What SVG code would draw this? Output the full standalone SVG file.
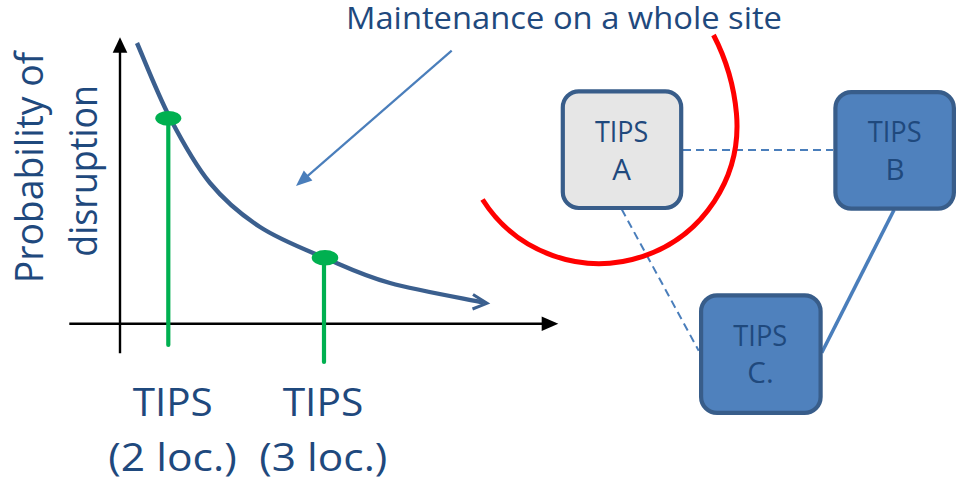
<svg xmlns="http://www.w3.org/2000/svg" width="967" height="486" viewBox="0 0 967 486">
  <style>
    .t { font-family: "Open Sans", "Liberation Sans", sans-serif; fill: #1F497D; }
    .big { font-size: 38px; }
    .box { font-size: 29.5px; }
    .node { stroke: #385D8A; stroke-width: 4.2; }
    .dash { stroke: #4A7EBB; stroke-width: 2; stroke-dasharray: 8 5; fill: none; }
    .axis { stroke: #000; stroke-width: 2.4; fill: none; }
    .green { stroke: #00B050; stroke-width: 4.2; stroke-linecap: round; fill: none; }
  </style>
  <rect width="967" height="486" fill="#FFFFFF"/>

  <!-- title -->
  <text class="t" x="346" y="29.3" font-size="31" textLength="436" lengthAdjust="spacingAndGlyphs">Maintenance on a whole site</text>

  <!-- chart -->
  <g id="chart">
    <line class="axis" x1="120" y1="353.3" x2="120" y2="50"/>
    <polygon points="120,37.3 112.7,52.7 127.3,52.7" fill="#000"/>
    <line class="axis" x1="69.3" y1="323.7" x2="544" y2="323.7"/>
    <polygon points="558.3,323.7 541.7,316.4 541.7,331" fill="#000"/>

    <path d="M137,43 C142.5,55.5 157.8,94.7 170,118 C182.2,141.3 195,164.8 210,183 C225,201.2 240.8,214.5 260,227 C279.2,239.5 303.3,248.7 325,258 C346.7,267.3 363,275.5 390,283 C417,290.5 468,299.2 484,302.6" fill="none" stroke="#3B5F8E" stroke-width="4.4"/>
    <polyline points="473,294.5 487,303.3 472.5,309" fill="none" stroke="#3B5F8E" stroke-width="3" stroke-linejoin="miter"/>

    <line class="green" x1="168.3" y1="118" x2="168.3" y2="345"/>
    <ellipse cx="168.3" cy="118.3" rx="13" ry="7.4" fill="#00B050"/>
    <line class="green" x1="324" y1="258" x2="324" y2="362"/>
    <ellipse cx="325" cy="257.7" rx="13.3" ry="7.8" fill="#00B050"/>

    <line x1="451.7" y1="50.7" x2="306" y2="177.3" stroke="#4A7EBB" stroke-width="2.2"/>
    <polygon points="296,186 303.8,170.6 312.4,180.4" fill="#4A7EBB"/>
  </g>

  <!-- axis labels -->
  <text class="t big" transform="translate(42.7,283.3) rotate(-90)" x="0" y="0" font-size="37" textLength="231.6" lengthAdjust="spacingAndGlyphs">Probability of</text>
  <text class="t big" transform="translate(96.7,256.7) rotate(-90)" x="0" y="0" font-size="37" textLength="171.7" lengthAdjust="spacingAndGlyphs">disruption</text>

  <text class="t big" x="132.7" y="416" textLength="80" lengthAdjust="spacingAndGlyphs">TIPS</text>
  <text class="t big" x="108.3" y="470.7" textLength="128.4" lengthAdjust="spacingAndGlyphs">(2 loc.)</text>
  <text class="t big" x="282.7" y="416" textLength="80.6" lengthAdjust="spacingAndGlyphs">TIPS</text>
  <text class="t big" x="259.3" y="470.7" textLength="128" lengthAdjust="spacingAndGlyphs">(3 loc.)</text>

  <!-- connectors -->
  <g id="connectors">
    <line class="dash" x1="683" y1="150" x2="833" y2="150"/>
    <line class="dash" x1="621.7" y1="209.3" x2="698.7" y2="350.7"/>
    <line x1="894" y1="210" x2="821.7" y2="352.7" stroke="#4A7EBB" stroke-width="3.6"/>
  </g>

  <!-- nodes -->
  <g id="tips-a">
    <rect class="node" x="562.8" y="91.4" width="118.4" height="116.6" rx="16" fill="#E6E6E6"/>
    <text class="t box" x="595" y="141.7" textLength="53.3" lengthAdjust="spacingAndGlyphs">TIPS</text>
    <text class="t box" x="621.7" y="180" text-anchor="middle">A</text>
  </g>
  <g id="tips-b">
    <rect class="node" x="835.4" y="92.1" width="118.5" height="116.5" rx="16" fill="#4F81BD"/>
    <text class="t box" x="867.7" y="141.7" textLength="54" lengthAdjust="spacingAndGlyphs">TIPS</text>
    <text class="t box" x="895" y="180" text-anchor="middle">B</text>
  </g>
  <g id="tips-c">
    <rect class="node" x="701.1" y="295.4" width="119.5" height="117.5" rx="16" fill="#4F81BD"/>
    <text class="t box" x="733.3" y="346" textLength="54" lengthAdjust="spacingAndGlyphs">TIPS</text>
    <text class="t box" x="760.5" y="383.3" text-anchor="middle">C.</text>
  </g>

  <!-- red arc -->
  <path d="M482.5,199.5 A138,138 0 0 0 736.5,114 A211,211 0 0 0 713.5,35" fill="none" stroke="#FF0000" stroke-width="5"/>
</svg>
